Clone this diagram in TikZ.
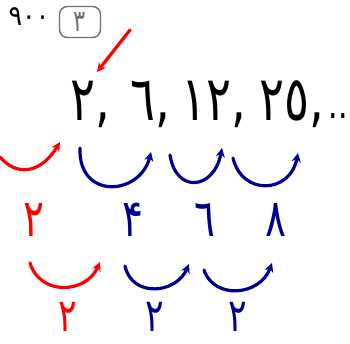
\documentclass[tikz,border=0pt]{standalone}
\usepackage{fontspec}
\usetikzlibrary{arrows.meta}
\newfontfamily\digitfont{DejaVu Sans}
\definecolor{ink}{RGB}{0,0,0}
\definecolor{penred}{RGB}{255,0,0}
\definecolor{penblue}{RGB}{0,0,140}
\definecolor{boxgray}{RGB}{110,110,110}
\tikzset{
  num/.style={font=\digitfont\fontsize{#1}{#1}\selectfont, inner sep=0pt, xscale=0.75, transform shape},
  hop/.style={line width=3.2pt, line cap=round, -{Stealth[length=9pt,width=9pt]}},
}
\begin{document}
\begin{tikzpicture}[x=1pt,y=-1pt]
\useasboundingbox (0,0) rectangle (350,343);
% header: score and question number
\node[num=28, xscale=1.2] (score) at (29,17) {٩٠٠};
\node[draw=boxgray, line width=1.4pt, rounded corners=8pt, minimum width=41pt, minimum height=31pt] (qbox) at (80,22) {};
\node[num=30, text=boxgray] (qnum) at (qbox) {٣};
% pointer to the first term
\coordinate (ptail) at (130,30);
\coordinate (phead) at (97,72);
\draw[hop, penred] (ptail) -- (phead);
% the sequence
\node[num=62] (t1) at (90,104) {٢,};
\node[num=62] (t2) at (150,104) {٦,};
\node[num=62] (t3) at (214,104) {١٢,};
\node[num=62] (t4) at (292,104) {٢٥,};
\node[num=40] (dots) at (338,116) {..};
% first differences
\coordinate (r0a) at (0,157);   \coordinate (r0b) at (60,142);
\coordinate (b1a) at (80,148);  \coordinate (b1b) at (151,152);
\coordinate (b2a) at (170,155); \coordinate (b2b) at (222,148);
\coordinate (b3a) at (233,158); \coordinate (b3b) at (298,153);
\draw[hop, penred]  (r0a) .. controls (18,178) and (42,172) .. (r0b);
\draw[hop, penblue] (b1a) .. controls (78,200) and (140,196) .. (b1b);
\draw[hop, penblue] (b2a) .. controls (176,194) and (214,190) .. (b2b);
\draw[hop, penblue] (b3a) .. controls (242,196) and (290,194) .. (b3b);
\node[num=52, text=penred]  (d0) at (34,220) {٢};
\node[num=52, text=penblue] (d1) at (133,220) {۴};
\node[num=52, text=penblue] (d2) at (205,220) {٦};
\node[num=52, text=penblue] (d3) at (276,220) {٨};
% second differences
\coordinate (s0a) at (30,263);  \coordinate (s0b) at (100,262);
\coordinate (s1a) at (125,266); \coordinate (s1b) at (189,264);
\coordinate (s2a) at (204,270); \coordinate (s2b) at (272,263);
\draw[hop, penred]  (s0a) .. controls (40,296) and (86,294) .. (s0b);
\draw[hop, penblue] (s1a) .. controls (132,298) and (176,294) .. (s1b);
\draw[hop, penblue] (s2a) .. controls (214,300) and (260,296) .. (s2b);
\node[num=46, text=penred]  (e0) at (68,317) {٢};
\node[num=46, text=penblue] (e1) at (155,317) {٢};
\node[num=46, text=penblue] (e2) at (238,317) {٢};
\end{tikzpicture}
\end{document}
